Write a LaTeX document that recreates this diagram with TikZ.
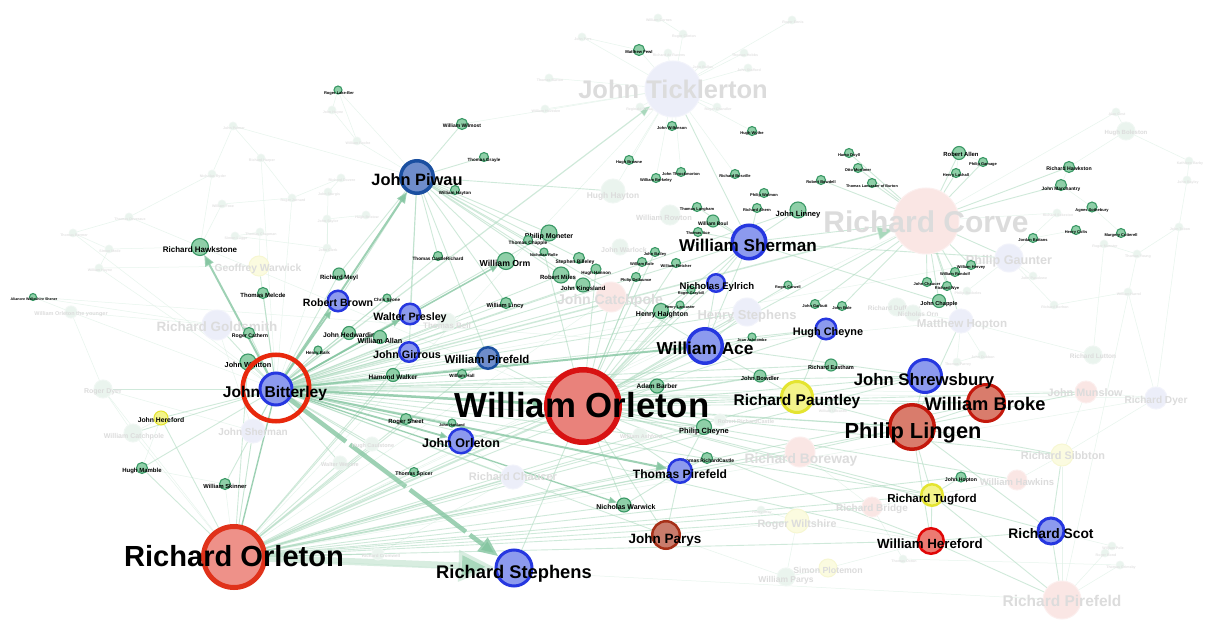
\documentclass[tikz,border=0pt]{standalone}
\usepackage{fontspec}
\setmainfont{Liberation Sans}
\usetikzlibrary{arrows.meta}
\pgfdeclarelayer{bgl}
\pgfdeclarelayer{edges}
\pgfsetlayers{bgl,edges,main}
\definecolor{gF}{HTML}{8FCFA8}
\definecolor{gD}{HTML}{3A9966}
\definecolor{bF}{HTML}{8C9AEE}
\definecolor{bD}{HTML}{2637E0}
\definecolor{sF}{HTML}{6F8DCB}
\definecolor{sD}{HTML}{1A4FA0}
\definecolor{rF}{HTML}{E9827B}
\definecolor{rD}{HTML}{D81212}
\definecolor{oF}{HTML}{EE9189}
\definecolor{oD}{HTML}{E0321A}
\definecolor{lF}{HTML}{D97C6C}
\definecolor{lD}{HTML}{C4180C}
\definecolor{pF}{HTML}{C97C6C}
\definecolor{pD}{HTML}{A63018}
\definecolor{hF}{HTML}{EC7A72}
\definecolor{hD}{HTML}{E00606}
\definecolor{yF}{HTML}{F4F48A}
\definecolor{yD}{HTML}{E4E430}
\definecolor{lavF}{HTML}{ECEEF9}
\definecolor{lavD}{HTML}{F2F3FB}
\definecolor{pinkF}{HTML}{FAE6E4}
\definecolor{pinkD}{HTML}{FCEFEE}
\definecolor{yelF}{HTML}{FBFBE0}
\definecolor{yelD}{HTML}{F7F7D2}
\definecolor{grnF}{HTML}{EAF4EE}
\definecolor{grnD}{HTML}{F0F7F3}
\definecolor{ftx}{HTML}{DCDCDC}
\definecolor{ftxs}{HTML}{E2E2E2}
\definecolor{eS}{HTML}{86C6A2}
\definecolor{eM}{HTML}{A9D8BC}
\definecolor{eL}{HTML}{DDF0E5}
\definecolor{ringC}{HTML}{E8280C}
\tikzset{
  dot/.style={circle, inner sep=0pt, minimum size={#1}},
  lab/.style={inner sep=0pt, anchor=mid, text=black},
  fs/.style={font=\bfseries\fontsize{#1}{#1}\selectfont},
  se/.style={draw=eS, draw opacity=.8},
  me/.style={draw=eM, line width=.9pt, draw opacity=.55},
  le/.style={draw=eL, line width=.5pt, draw opacity=.7},
  arB/.style={-{Triangle[length=20pt,width=16pt]}},
  arM/.style={-{Triangle[length=11pt,width=9pt]}},
  arS/.style={-{Triangle[length=8pt,width=6.5pt]}}
}
\begin{document}
\begin{tikzpicture}[x=1pt,y=-1pt]
\begin{pgfonlayer}{bgl}
\fill[white] (0,0) rectangle (1210,644);
\end{pgfonlayer}
\useasboundingbox (0,0) rectangle (1210,644);

% ---------- faded tiny nodes ----------
\foreach \nm/\x/\y/\t in {
f1/332/110/John Hayne, f2/233/126/John Palmer, f3/261/158/Richard Harper, f4/212/174/Nicholas Ryder,
f5/222/204/William Foxe, f6/292/198/Roger Jurnard, f7/341/178/Richard Dovere, f8/328/192/John Sturgis,
f9/357/141/William Roche, f10/129/217/Thomas Deveraux, f11/73/233/Thomas Bermer, f12/109/249/Simon Mede,
f13/99/268/William Hayne, f14/366/215/Hugh Bristow, f15/327/219/John Saylor, f16/327/248/John Clerk,
f17/235/236/Simon Lugge, f18/260/232/Thomas Chapman, f19/658/18/William Cornes, f20/683/34/Roger Clinton,
f21/582/37/John Pers, f22/668/53/Richard de Ravens, f23/702/65/John Bulloc, f24/744/53/Thomas Hobbs,
f25/748/68/John Stafford, f26/792/20/Roger Ennis, f27/549/78/Thomas Barton, f28/545/109/William Hoveden,
f29/640/107/Reginald Osward, f30/717/107/Roger Chandler, f31/1116/112/Alan Gest, f32/1057/213/Richard Sekeston,
f33/1104/244/Roger Manster, f34/1137/254/Thomas Young, f35/1179/227/John Tobon, f36/1187/180/John Bayley,
f37/1189/161/Kathleen Barby, f38/1033/276/John Pasolewe, f39/1054/305/Richard Borhon, f40/1128/292/William Harrol,
f41/967/291/Philip Bockeles, f42/982/355/John Dubbon, f43/957/362/Thomas Parrey, f44/832/409/William Ullcastle,
f45/903/559/Thomas Octon, f46/1120/565/Thomas Grimsby, f47/1105/553/Roger Bond, f48/761/510/Henry Bray,
f49/1112/546/William Pole}{
  \node[dot=8, fill=grnF, draw=grnD, line width=.6pt] (\nm) at (\x,\y) {};
  \node[lab, fs=3.6, text=ftxs] (\nm-l) at (\x+1,\y+0.7) {\t};
}

% ---------- faded labelled nodes ----------
\foreach \nm/\x/\y/\r/\cl/\lx/\ly/\f/\t in {
JTi/673/89/28/lav/673/91/25.5/John Ticklerton,
RCo/926/221/33/pink/926/224/30/Richard Corve,
PGa/1009/258/14/lav/1009/259/12.6/Philip Gaunter,
JCa/611/297/15/pink/610/299/14.1/John Catchpole,
HSt/747/312/14/lav/747/314/13/Henry Stephens,
MHo/961/321/12/lav/962/323/11.6/Matthew Hopton,
GWa/259/266/10/yel/258/267/10.3/Geoffrey Warwick,
RGo/217/325/15/lav/217/326/13.5/Richard Goldsmith,
JSh/253/431/12/lav/253/431/10/John Sherman,
RBr/800/452/15/pink/801/458/13.8/Richard Boreway,
RSi/1062/455/11/yel/1063/455/10.9/Richard Sibbton,
JMu/1086/392/11/pink/1085/392/10.8/John Munslow,
RDy/1156/398/11/lav/1156/399/10.1/Richard Dyer,
WHk/1017/480/10/pink/1017/481/9.5/William Hawkins,
RBd/872/507/10/pink/872/507/10/Richard Bridge,
RWi/797/521/12/yel/797/523/10.7/Roger Wiltshire,
SPl/828/568/9/yel/828/569/8.8/Simon Plotemon,
WPy/786/577/9/grn/786/578/8.5/William Parys,
RPi/1062/600/19/pink/1062/601/15.5/Richard Pirefeld,
RCh/513/477/12/lav/513/476/11/Richard Chaucer,
HHy/613/191/12/grn/613/194/8.4/Hugh Hayton,
WRo/670/215/10/grn/664/216/7.5/William Rowton,
JWa/620/247/8/grn/624/248/7/John Warlock,
TBe/447/322/9/grn/447/324/8/Thomas Bell,
WOy/71/312/6/grn/71/312/5.5/William Orleton the younger,
RDr/103/389/9/grn/103/389/7/Roger Dyer,
WCa/133/433/9/grn/134/434/7/William Catchpole,
WWe/340/463/7/grn/340/463/5.5/Walter Weyere,
HCa/372/444/7/grn/373/444/5.5/Hugh Caulstone,
HBo/1126/131/9/grn/1126/131/6/Hugh Boleston,
RLu/1093/355/9/grn/1093/355/6.5/Richard Lutton,
RDu/897/307/9/grn/894/307/6.5/Richard Dufferey,
NOr/913/313/8/grn/918/313/6.5/Nicholas Orn,
WAs/640/435/7/grn/641/435/5.5/William Ashford,
RRC/720/420/6/grn/746/420/5.5/Robert RichardCastle,
RCr/378/554/6/grn/381/554/4.5/Richard Cromwell}{
  \node[dot=2*\r, fill=\cl F, draw=\cl D, line width=1pt] (\nm) at (\x,\y) {};
  \node[lab, fs=\f, text=ftx] (\nm-l) at (\lx,\ly+0.2*\f) {\t};
}

% ---------- green (highlighted) small nodes ----------
\foreach \nm/\x/\y/\r/\lx/\ly/\f/\t in {
RH/200/247/9/200/248/8/Richard Hawkstone,
RMe/339/274/6.5/339/276/6.1/Richard Meyl,
TMe/263/293/6/263/294/6/Thomas Melcde,
RCa/249/333/6/250/334/5.2/Roger Cathern,
JWh/248/362/8.5/248/363/7.3/John Whitton,
JHe/349/333/7/351/334/6.7/John Hedwardine,
WAl/380/337/7/380/339/7.2/William Allan,
HWa/393/375/7/393/376/6.5/Hamond Walker,
HBa/318/350/4.5/318/351/4.5/Henry Bark,
CSy/387/298/4.5/387/298/4.5/Chris Syone,
WSk/225/484/6/225/485/5.8/William Skinner,
HMa/142/468/6/142/469/6/Hugh Mamble,
AWs/33/297/4/34/297/3.6/Alianore Welleshire Shener,
RLB/338/90/4.5/339/91/4/Roger Lake-Ber,
WOrm/506/261/9/505/262/8.7/William Orm,
PMo/549/233/8.5/549/234/7/Philip Moneter,
TCh/528/240/5/528/241/4.8/Thomas Chapple,
TCR/438/256/5/438/257/4.7/Thomas CastleRichard,
WLi/506/303/6/505/304/5.8/William Lincy,
RMi/561/275/8.5/558/276/6/Robert Miles,
JKi/583/285/7.5/583/287/6/John Kingsland,
SBi/579/258/6/575/260/5/Stephen Billeley,
HHm/596/269/5.5/596/271/4.5/Hugh Hannon,
NRo/544/252/4.5/544/253/4/Nicholas Rolle,
PDe/636/277/5/636/278/4/Philip Dellaunce,
JBa/655/252/5/655/252/4/John Bailey,
WBo/642/262/5/642/262/4/William Bole,
WFl/676/263/5/676/264/4/William Fletcher,
HHa/661/311/8/662/312/7/Henry Haighton,
HLa/680/305/4.5/680/305/3.8/Henry Lancaster,
THo/698/232/5/698/231/4/Thomas Ace,
RGr/691/290/4.5/691/291/3.8/Roger Graybill,
RCw/788/285/4.5/788/285/3.8/Roger Carwell,
WWi/462/124/6/462/124/5/William Wilmost,
TGr/484/157/5/484/158/4.5/Thomas Grayle,
WHy/455/190/5/455/191/4.5/William Hayton,
JWk/672/126/5/672/126/4/John Wilkinson,
HBr/629/160/5/629/160/4/Hugh Browne,
JTh/681/172/5/681/172/4/John Throckmorton,
WBe/656/178/5/656/178/4/William Berkeley,
HWy/752/131/5/752/131/4/Hugh Wythe,
RBo/735/174/5/735/174/4/Richard Bosville,
PWo/764/193/5/764/193/4/Philip Wolmon,
TLa/697/207/5/697/207/4/Thomas Langham,
RAh/757/208/5/757/208/4/Richard Ahern,
WBl/713/221/6.5/713/222/5/William Boul,
JLi/798/210/8.5/798/212/7.6/John Linney,
HDo/849/153/5/849/153/4/Hamo Doyll,
OMo/858/168/5/858/168/4/Otto Mortimer,
RBw/821/180/5/821/180/4/Robert Bowdell,
TLB/872/183/5/872/184/3.8/Thomas Lancaster of Burton,
RAl/959/153/7/961/153/5.9/Robert Allen,
PGm/983/162/5/983/162/4/Philip Gamage,
HLc/956/173/5/956/173/4/Henry Lachall,
RHk/1069/167/6/1069/167/5.2/Richard Hawkston,
JMa/1061/185/6/1061/187/4.8/John Marchantry,
ASo/1092/207/5.5/1092/208/4/Agnes Sothebury,
HCo/1076/230/5/1076/230/4/Henry Colts,
MCo/1121/233/5/1121/233/4/Margery Cotterell,
JBt/1033/238/5/1033/238/4/Jordan Battans,
WHv/971/265/5/971/265/4/William Hervey,
WRa/955/272/5/955/272/4/William Randolf,
JCh/927/282/5/927/282/4/John Chaucer,
RWy/947/286/5/947/286/4/Richard Wye,
JCp/939/301/7/939/302/5.6/John Chapple,
JGb/815/304/5/815/304/4/John Garbutt,
JBo/842/306/5/842/306/4/John Bole,
REa/831/365/6.5/831/366/5.6/Richard Eastham,
JBw/760/376/6.5/760/377/5.8/John Bowdler,
JAs/752/337/4.5/752/338/3.8/Joan Ashcombe,
ABa/657/386/7.5/657/385/6.5/Adam Barber,
PCh/704/427/8/704/429/7.5/Philip Cheyne,
TRC/707/458/6/707/459/5/Thomas RichardCastle,
NWa/624/505/7.5/626/505/7/Nicholas Warwick,
JHo/961/477/5.5/961/478/5.2/John Hopton,
WHa/462/374/5/462/374/4.5/William Hall,
RSh/406/419/6/406/420/6/Roger Sheet,
JHt/452/423/4.5/452/423/3.8/John Hartland,
TSp/414/472/5/414/472/5.2/Thomas Spicer,
MFe/639/50/6/639/50/4.2/Matthew Fewl}{
  \node[dot=2*\r-1, fill=gF, draw=gD, line width=1.1pt] (\nm) at (\x,\y) {};
  \node[lab, fs=\f] (\nm-l) at (\lx,\ly+0.2*\f) {\t};
}
\node[dot=14, fill=yF, draw=yD, line width=1pt] (JHr) at (161,418) {};
\node[lab, fs=6.8] (JHr-l) at (161,419.4) {John Hereford};

% ---------- main nodes ----------
\node[dot=72.5, fill=rF, draw=rD, line width=5.5pt] (WO) at (583,406) {};
\node[dot=61, fill=oF, draw=oD, line width=5pt] (RO) at (234,557) {};
\node[dot=32, fill=bF, draw=bD, line width=3pt] (JB) at (276,389) {};
\node[dot=66.5, draw=ringC, line width=4.5pt] (JBR) at (276,388) {};
\node[dot=32.5, fill=sF, draw=sD, line width=3.5pt] (JP) at (417,177) {};
\node[dot=33.5, fill=bF, draw=bD, line width=3.5pt] (WS) at (749,242) {};
\node[dot=17.5, fill=bF, draw=bD, line width=2.5pt] (NE) at (716,283) {};
\node[dot=34.5, fill=bF, draw=bD, line width=3.5pt] (WA) at (705,346) {};
\node[dot=20.5, fill=bF, draw=bD, line width=2.5pt] (HC) at (826,329) {};
\node[dot=33, fill=bF, draw=bD, line width=3pt] (JS) at (925,376) {};
\node[dot=37, fill=lF, draw=lD, line width=3pt] (WB) at (986,403) {};
\node[dot=44.5, fill=lF, draw=lD, line width=3.5pt] (PL) at (912,427) {};
\node[dot=31, fill=yF, draw=yD, line width=3pt] (RP) at (797,397) {};
\node[dot=21.5, fill=yF, draw=yD, line width=2.5pt] (RT) at (932,495) {};
\node[dot=25.5, fill=hF, draw=hD, line width=2.5pt] (WH) at (931,541) {};
\node[dot=26, fill=bF, draw=bD, line width=3pt] (RS) at (1051,531) {};
\node[dot=27.5, fill=pF, draw=pD, line width=2.5pt] (JPa) at (666,535) {};
\node[dot=36, fill=bF, draw=bD, line width=3pt] (RSt) at (514,568) {};
\node[dot=23.5, fill=bF, draw=bD, line width=2.5pt] (TP) at (680,471) {};
\node[dot=24.5, fill=bF, draw=bD, line width=2.5pt] (JO) at (461,441) {};
\node[dot=21.5, fill=sF, draw=sD, line width=2.5pt] (WP) at (488,358) {};
\node[dot=19.5, fill=bF, draw=bD, line width=2.5pt] (JG) at (409,352) {};
\node[dot=20.5, fill=bF, draw=bD, line width=2.5pt] (WPr) at (410,314) {};
\node[dot=20.5, fill=bF, draw=bD, line width=2.5pt] (RB) at (338,301) {};

% ---------- edges ----------
\begin{pgfonlayer}{edges}
\foreach \a/\b in {
f1/RLB, f1/f9, f2/f4, f2/f3, f3/f6, f4/f10, f5/f6, f6/f7, f7/f8, f8/f16, f9/JP, f10/f11, f11/f12,
f12/f13, f13/GWa, f14/f15, f15/f16, f16/f17, f17/f18, f18/GWa, RLB/f9, RLB/JP, f19/f20, f20/JTi,
f21/JTi, f22/JTi, f23/JTi, f24/JTi, f25/JTi, f26/JTi, f27/JTi, f28/JTi, f29/JTi, f30/JTi, f31/RCo,
f31/HBo, f32/RCo, f33/f34, f34/f35, f35/f36, f36/f37, f37/HBo, f32/PGa, f38/PGa, f39/PGa, f40/RDy,
f41/PGa, f42/MHo, f43/MHo, f44/RP, f45/RBd, f46/RPi, f47/RPi, f48/RWi, f49/RS, WOy/RGo, WOy/RDr,
RDr/WCa, WCa/JHr, JHr/HMa, HMa/WSk, RDr/JSh, RGo/JSh, AWs/WOy, AWs/RGo, RPi/RSi, RDy/JMu,
RDy/RSi, JMu/RSi, WHk/RT, WHk/RSi, SPl/WPy, SPl/WH, WPy/JPa, RWi/JPa, RWi/WH, RBd/RT, RBd/RBr,
HBo/RHk, RHk/JMa, JMa/ASo, ASo/MCo, HCo/JBt, RAl/PGm, RAl/HLc, MFe/f21, f11/JB, f13/JB, WOy/JB,
JB/RDy, JB/MHo, JB/JMu, JB/PGa, AWs/WA, f10/WO, f2/JP, f4/RH, f5/RH, f12/RH, f34/RPi, f35/RDy,
f33/RLu, RLu/MHo, RDu/NOr, NOr/MHo, f39/f40, f42/f43, f45/f46, f47/f49, WPy/RWi, RCr/RCh, RCh/JO,
JTi/MFe, JTi/JWk, JTi/HBr, JTi/JTh, JTi/WBe, JTi/WWi, JTi/HHy, JTi/HWy, JTi/RBo, RO/JTi, RO/RCo,
RO/HSt, RO/JCa, RO/RDy, RO/RPi, WSk/RO, f16/JB, f6/JB, f3/JB, JSh/RO, WCa/RO, RDr/RO}{
  \draw[le] (\a) -- (\b);
}
\foreach \a/\b in {
JB/JWh, JB/RCa, JB/TMe, JB/JHe, JB/WAl, JB/HWa, JB/RSh, JB/TSp, JB/WSk, JB/JPa, JB/PMo, JB/RMi,
JB/JKi, JB/HHa, JB/PCh, JB/ABa, JB/JBw, JB/HC, JB/WB, JB/RMe, JB/TCR, JB/WLi, JB/JSh, JB/RGo,
JB/GWa, JB/WCa, JB/RDr, JB/JHr, JB/HMa, JB/JLi, JB/JCa, JB/HSt, JB/TBe, JB/WHa, JB/HCa, JB/WWe,
JB/JG, JB/WP, JB/WS, JB/NE, JB/JS, JB/RP, JB/PL, JB/HBa, JB/CSy, JB/JHt, JB/REa, JB/RT, JB/WH,
JB/RCh, JB/WAs,
RO/NWa, RO/WA, RO/JPa, RO/PL, RO/RP, RO/JSh, RO/RCh, RO/JWh, RO/JHr, RO/HMa, RO/RSh,
RO/TSp, RO/HCa, RO/WWe, RO/RCr, RO/PCh, RO/ABa, RO/WH, RO/RT, RO/JS, RO/WB, RO/TRC, RO/JHo,
RO/RBr, RO/WAs, RO/RBd, RO/RWi, RO/JO, RO/TP, RO/WP, RO/JG, RO/HWa,
WO/WA, WO/RP, WO/JS, WO/PL, WO/WB, WO/TP, WO/PCh, WO/ABa, WO/JPa, WO/RSt, WO/WS, WO/NE,
WO/HHa, WO/WP, WO/JO, WO/RT, WO/WH, WO/RBr, WO/RCo, WO/JCa, WO/HSt, WO/JBw, WO/REa, WO/HC,
WO/RS, WO/WHk, WO/RSi, WO/JMu, WO/NWa,
JP/WOrm, JP/PMo, JP/WP, JP/JG, JP/WPr, JP/TCR, JP/WLi, JP/WWi, JP/TGr, JP/WHy, JP/RMi, JP/JKi,
JP/WA, JP/HHy, JP/RB, JP/RMe, JP/TCh, JP/SBi,
WS/RCo, WS/JLi, WS/NE, WS/WA, WS/JTi, WS/PGa, WS/WBl, WS/TLa, WS/RAh, WS/HHa, WS/JCp, WS/THo,
PL/WB, PL/JS, PL/RT, PL/WH, PL/RS, PL/RSi, PL/MHo, PL/JMu, PL/RBr,
RS/RPi, RS/WH, RS/RSi, WH/RPi, WH/RT, RP/HC, RP/JS, RP/PL, RT/RPi, RT/JHo, WA/NE, WA/HC,
WA/JS, WA/HSt, WA/RP, TP/NWa, TP/JPa, TP/TRC, TP/PCh,
RCo/RAl, RCo/RHk, RCo/JMa, RCo/HDo, RCo/OMo, RCo/RBw, RCo/TLB, RCo/PGm, RCo/HLc, RCo/PGa,
RCo/MHo, RCo/WHv, RCo/WRa, RCo/JCh, RCo/RWy, RCo/JCp, RCo/JGb, RCo/JBo,
WO/PDe, WO/JBa, WO/WBo, WO/WFl, WO/HLa, WO/RGr, WO/RCw, WO/JAs, WO/NRo, WO/HHm}{
  \draw[me] (\a) -- (\b);
}
% strong, arrowed connectors
\draw[draw=eM, draw opacity=.45, line width=7pt, -{Triangle[length=36pt,width=30pt]}] (RO) -- (RSt);
\draw[se, line width=4.5pt, arB, dash pattern=on 70pt off 5pt] (JB) -- (RSt);
\draw[se, line width=2pt, arM] (JB) -- (JP);
\draw[se, line width=2pt, arM] (JB) -- (RH);
\draw[se, line width=1.6pt, arS] (JB) -- (RB);
\draw[se, line width=1.6pt, arS] (JB) -- (WPr);
\draw[se, line width=1.8pt, arS] (JB) -- (JO);
\draw[se, line width=2pt, arM] (JB) -- (TP);
\draw[se, line width=1.4pt, arS] (JB) -- (NWa);
\draw[se, line width=1.5pt, arS] (JB) -- (WOrm);
\draw[se, line width=2.5pt, arM] (JB) -- (WO);
\draw[se, line width=2pt, arS] (JB) -- (WA);
\draw[me, line width=1.2pt, arM] (JB) -- (JTi);
\draw[me, line width=1.5pt, -{Triangle[length=16pt,width=13pt]}] (JB) -- (RCo);
\draw[me, line width=2pt] (RO) -- (WO);
\draw[se, line width=1.4pt] (RO) -- (JB);
\end{pgfonlayer}

% ---------- labels of main nodes ----------
\foreach \nm/\x/\y/\f/\t in {
JB/275/392/15.6/John Bitterley, JP/417/180/16.4/John Piwau, WS/748/245/17.1/William Sherman,
NE/717/285/9.6/Nicholas Eylrich, WA/705/348/17.3/William Ace, HC/828/331/10.9/Hugh Cheyne,
JS/924/380/16.7/John Shrewsbury, WB/985/404/18.3/William Broke, PL/913/431/21.8/Philip Lingen,
RP/797/400/15.5/Richard Pauntley, RT/932/498/11.6/Richard Tugford, WH/930/543/13.3/William Hereford,
RS/1051/533/13.8/Richard Scot, JPa/665/538/13.5/John Parys, RSt/514/572/18.3/Richard Stephens,
TP/680/473/12.1/Thomas Pirefeld, JO/461/442/12.5/John Orleton, WP/487/359/11.4/William Pirefeld,
JG/407/354/10.8/John Girrous, WPr/410/316/10.7/Walter Presley, RB/338/302/10.6/Robert Brown,
RO/234/558/29.1/Richard Orleton, WO/582/408/34.8/William Orleton}{
  \node[lab, fs=\f] (\nm-l) at (\x,\y+0.2*\f) {\t};
}
\end{tikzpicture}
\end{document}
